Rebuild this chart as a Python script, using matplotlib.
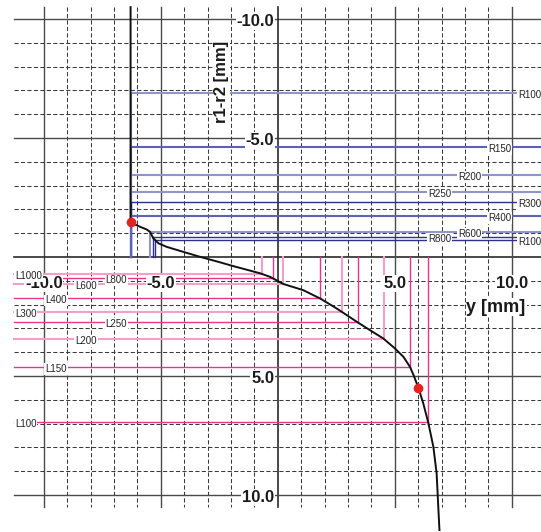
import numpy as np
import matplotlib
matplotlib.use('Agg')
import matplotlib.pyplot as plt

plt.rcParams['font.family'] = ['Liberation Sans', 'DejaVu Sans']

# ---- data ----
curve_x = [-6.29, -6.29, -5.88, -5.60, -5.46, -5.32, -5.10, -4.75, -4.04, -3.32,
           -2.54, -1.90, -0.76, -0.33, 0.24, 1.09, 1.81, 2.52, 3.38, 3.94, 4.51,
           5.01, 5.37, 5.65, 5.82, 6.01, 6.22, 6.44, 6.65, 6.79, 6.86, 6.91]
curve_y = [-10.50, -1.46, -1.27, -1.16, -1.06, -0.79, -0.58, -0.43, -0.22, -0.01,
           0.20, 0.38, 0.68, 0.83, 1.13, 1.39, 1.74, 2.16, 2.72, 3.07, 3.42,
           3.84, 4.19, 4.61, 5.00, 5.49, 6.15, 6.99, 7.97, 9.09, 10.49, 11.47]
dot_x = [-6.29, 6.01]
dot_y = [-1.46, 5.49]

radii = [100, 150, 200, 250, 300, 400, 600, 800, 1000]
r_offset = [-6.90, -4.61, -3.45, -2.74, -2.30, -1.72, -1.07, -0.85, -0.71]
l_offset = [6.92, 4.61, 3.45, 2.74, 2.30, 1.74, 1.13, 0.90, 0.71]

tick_values = [-10, -5, 5, 10]
tick_labels = ['-10.0', '-5.0', '5.0', '10.0']
x_title = 'y [mm]'
y_title = 'r1-r2 [mm]'

# ---- styles ----
blue_dark, blue_mid, blue_light = '#2e3192', '#5b63b2', '#8f94c9'
pink_bright, pink_light = '#e8338f', '#f39fc7'
r_colors = [blue_light, blue_mid, blue_light, blue_light, blue_dark, blue_mid,
            blue_light, blue_dark, blue_dark]
l_colors = [pink_bright, pink_bright, pink_light, pink_bright, pink_light,
            pink_bright, pink_light, pink_bright, pink_light]

fig = plt.figure(figsize=(5.41, 5.32), dpi=100)
ax = fig.add_axes([0, 0, 1, 1])
ax.set_xlim(-11.87, 11.25)
ax.set_ylim(11.55, -10.80)
ax.axis('off')

XL, XR = -11.27, 11.4
YT, YB = -10.5, 10.5

for v in range(-10, 11):
    if v == 0:
        kw = dict(color='#2a2a2a', lw=1.2, ls='-')
    elif v % 5 == 0:
        kw = dict(color='#4a4a4a', lw=1.0, ls='-')
    else:
        kw = dict(color='#3a3a3a', lw=0.75, ls=(0, (4, 2.2)))
    ax.plot([v, v], [YT, YB], zorder=1, **kw)
    ax.plot([XL, XR], [v, v], zorder=1, **kw)

box = dict(facecolor='white', edgecolor='none', pad=0.6)

# R lines (blue)
for i, (R, lev) in enumerate(zip(radii, r_offset)):
    xc = np.interp(lev, curve_y, curve_x)
    c = r_colors[i]
    lw = 1.0 if c == blue_dark else 1.5
    ax.plot([xc, XR], [lev, lev], color=c, lw=lw, zorder=2)
    ax.plot([xc, xc], [lev, 0], color=c, lw=lw, zorder=2)
    lx = 10.27 - 1.28 * (i % 4)
    ax.text(lx, lev + 0.08, f'R{R}', ha='left', va='center', fontsize=7,
            color='#222222', bbox=box, zorder=3)

# L lines (magenta)
for i, (R, lev) in enumerate(zip(radii, l_offset)):
    xc = np.interp(lev, curve_y, curve_x)
    c = l_colors[i]
    lw = 1.0 if c == pink_bright else 1.5
    ax.plot([XL, xc], [lev, lev], color=c, lw=lw, zorder=2)
    ax.plot([xc, xc], [lev, 0], color=c, lw=lw, zorder=2)
    lx = -11.23 + 1.29 * (i % 4)
    ax.text(lx, lev + 0.08, f'L{R}', ha='left', va='center', fontsize=7,
            color='#222222', bbox=box, zorder=3.5)

# tick labels
for v, lab in zip(tick_values, tick_labels):
    ax.text(v, 1.12, lab, ha='center', va='center', fontsize=12,
            fontweight='bold', color='#1a1a1a', bbox=box, zorder=3)
    ax.text(-0.15, v + 0.1, lab, ha='right', va='center', fontsize=12,
            fontweight='bold', color='#1a1a1a', bbox=box, zorder=3)

ax.text(9.33, 2.1, x_title, ha='center', va='center', fontsize=13,
        fontweight='bold', color='#1a1a1a', bbox=box, zorder=3)
ax.text(-2.4, -7.37, y_title, ha='center', va='center', fontsize=12,
        fontweight='bold', color='#1a1a1a', rotation=90, bbox=box, zorder=3)

ax.plot(curve_x, curve_y, color='#111111', lw=1.4, zorder=4)
ax.plot(dot_x, dot_y, 'o', color='#e52421', markersize=7, mec='none', zorder=5)

fig.savefig('out.png', dpi=100)
